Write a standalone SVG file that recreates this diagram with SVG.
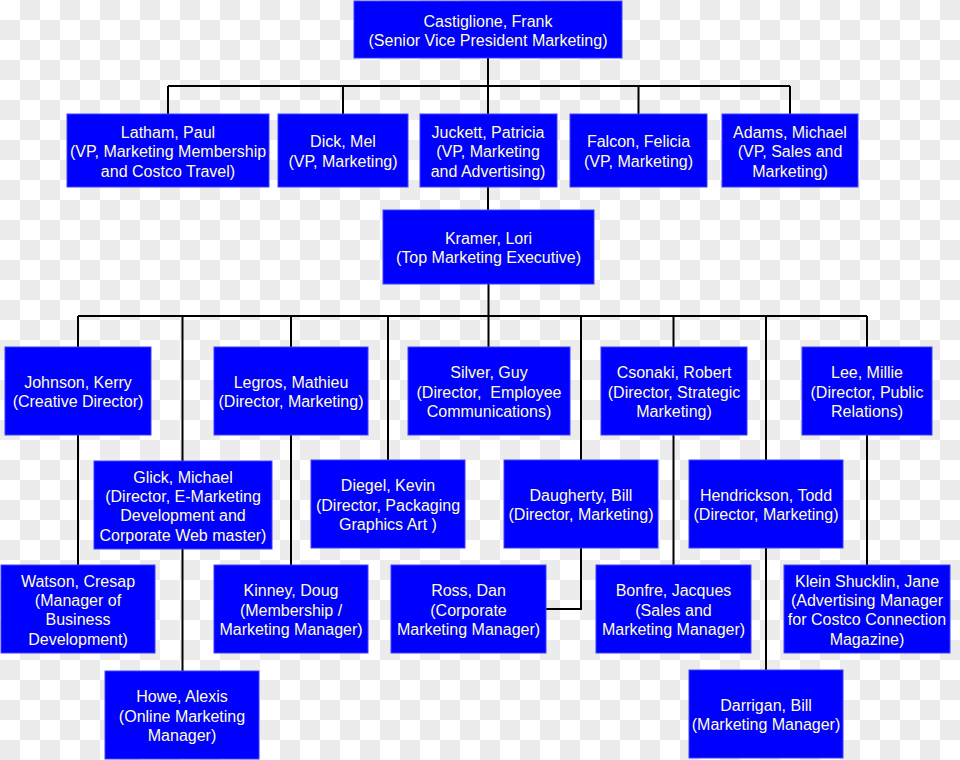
<svg xmlns="http://www.w3.org/2000/svg" width="960" height="760" viewBox="0 0 960 760">
<style>
.box{fill:#0000ff;stroke:#4040ff;stroke-width:1}
.t{font-family:"Liberation Sans",Arial,sans-serif;font-size:16px;fill:#ffffcc;text-anchor:middle}
.c{stroke:#000;stroke-width:2;fill:none}
</style>
<defs>
<pattern id="chk" width="40" height="40" patternUnits="userSpaceOnUse">
<rect width="40" height="40" fill="#ffffff"/>
<rect x="20" y="0" width="20" height="20" fill="#ececec"/>
<rect x="0" y="20" width="20" height="20" fill="#ececec"/>
</pattern>
</defs>
<rect width="960" height="760" fill="url(#chk)"/>
<g id="connectors">
<path class="c" d="M488 58V210M168 86H790M168 86V114M343 86V114M638.5 86V114M790 86V114"/>
<path class="c" d="M488.5 284V316M78 316H867M78 316V565M182.5 316V671M291 316V565M388 316V460M488.5 316V347M581 316V609H546M673.5 316V565M766 316V670M867 316V565"/>
</g>
<g id="castiglione"><rect class="box" x="354" y="1" width="268" height="57"/><text class="t"><tspan x="488" y="26.6">Castiglione, Frank</tspan><tspan x="488" y="46">(Senior Vice President Marketing)</tspan></text></g>
<g id="latham"><rect class="box" x="67" y="114" width="202" height="73"/><text class="t"><tspan x="168" y="137.7">Latham, Paul</tspan><tspan x="168" y="157.1">(VP, Marketing Membership</tspan><tspan x="168" y="176.5">and Costco Travel)</tspan></text></g>
<g id="dick"><rect class="box" x="278" y="114" width="130" height="73"/><text class="t"><tspan x="343" y="147.4">Dick, Mel</tspan><tspan x="343" y="166.8">(VP, Marketing)</tspan></text></g>
<g id="juckett"><rect class="box" x="420" y="114" width="137" height="73"/><text class="t"><tspan x="488" y="137.7">Juckett, Patricia</tspan><tspan x="488" y="157.1">(VP, Marketing</tspan><tspan x="488" y="176.5">and Advertising)</tspan></text></g>
<g id="falcon"><rect class="box" x="570" y="114" width="137" height="73"/><text class="t"><tspan x="638.5" y="147.4">Falcon, Felicia</tspan><tspan x="638.5" y="166.8">(VP, Marketing)</tspan></text></g>
<g id="adams"><rect class="box" x="722" y="114" width="136" height="73"/><text class="t"><tspan x="790" y="137.7">Adams, Michael</tspan><tspan x="790" y="157.1">(VP, Sales and</tspan><tspan x="790" y="176.5">Marketing)</tspan></text></g>
<g id="kramer"><rect class="box" x="383" y="210" width="211" height="74"/><text class="t"><tspan x="488.5" y="243.9">Kramer, Lori</tspan><tspan x="488.5" y="263.3">(Top Marketing Executive)</tspan></text></g>
<g id="johnson"><rect class="box" x="5" y="347" width="146" height="88"/><text class="t"><tspan x="78" y="387.9">Johnson, Kerry</tspan><tspan x="78" y="407.3">(Creative Director)</tspan></text></g>
<g id="legros"><rect class="box" x="214" y="347" width="154" height="88"/><text class="t"><tspan x="291" y="387.9">Legros, Mathieu</tspan><tspan x="291" y="407.3">(Director, Marketing)</tspan></text></g>
<g id="silver"><rect class="box" x="408" y="347" width="162" height="88"/><text class="t" xml:space="preserve"><tspan x="489" y="378.2">Silver, Guy</tspan><tspan x="489" y="397.6">(Director,  Employee</tspan><tspan x="489" y="417">Communications)</tspan></text></g>
<g id="csonaki"><rect class="box" x="601" y="347" width="146" height="88"/><text class="t"><tspan x="674" y="378.2">Csonaki, Robert</tspan><tspan x="674" y="397.6">(Director, Strategic</tspan><tspan x="674" y="417">Marketing)</tspan></text></g>
<g id="lee"><rect class="box" x="802" y="347" width="130" height="88"/><text class="t"><tspan x="867" y="378.2">Lee, Millie</tspan><tspan x="867" y="397.6">(Director, Public</tspan><tspan x="867" y="417">Relations)</tspan></text></g>
<g id="glick"><rect class="box" x="94" y="461" width="178" height="88"/><text class="t"><tspan x="183" y="482.5">Glick, Michael</tspan><tspan x="183" y="501.9">(Director, E-Marketing</tspan><tspan x="183" y="521.3">Development and</tspan><tspan x="183" y="540.7">Corporate Web master)</tspan></text></g>
<g id="diegel"><rect class="box" x="311" y="460" width="154" height="88"/><text class="t"><tspan x="388" y="491.2">Diegel, Kevin</tspan><tspan x="388" y="510.6">(Director, Packaging</tspan><tspan x="388" y="530">Graphics Art )</tspan></text></g>
<g id="daugherty"><rect class="box" x="504" y="460" width="154" height="88"/><text class="t"><tspan x="581" y="500.9">Daugherty, Bill</tspan><tspan x="581" y="520.3">(Director, Marketing)</tspan></text></g>
<g id="hendrickson"><rect class="box" x="689" y="460" width="154" height="88"/><text class="t"><tspan x="766" y="500.9">Hendrickson, Todd</tspan><tspan x="766" y="520.3">(Director, Marketing)</tspan></text></g>
<g id="watson"><rect class="box" x="1" y="565" width="154" height="88"/><text class="t"><tspan x="78" y="586.5">Watson, Cresap</tspan><tspan x="78" y="605.9">(Manager of</tspan><tspan x="78" y="625.3">Business</tspan><tspan x="78" y="644.7">Development)</tspan></text></g>
<g id="kinney"><rect class="box" x="214" y="565" width="154" height="88"/><text class="t"><tspan x="291" y="596.2">Kinney, Doug</tspan><tspan x="291" y="615.6">(Membership /</tspan><tspan x="291" y="635">Marketing Manager)</tspan></text></g>
<g id="ross"><rect class="box" x="391" y="565" width="155" height="88"/><text class="t"><tspan x="468.5" y="596.2">Ross, Dan</tspan><tspan x="468.5" y="615.6">(Corporate</tspan><tspan x="468.5" y="635">Marketing Manager)</tspan></text></g>
<g id="bonfre"><rect class="box" x="596" y="565" width="155" height="88"/><text class="t"><tspan x="673.5" y="596.2">Bonfre, Jacques</tspan><tspan x="673.5" y="615.6">(Sales and</tspan><tspan x="673.5" y="635">Marketing Manager)</tspan></text></g>
<g id="klein"><rect class="box" x="784" y="565" width="166" height="88"/><text class="t"><tspan x="867" y="586.5">Klein Shucklin, Jane</tspan><tspan x="867" y="605.9">(Advertising Manager</tspan><tspan x="867" y="625.3">for Costco Connection</tspan><tspan x="867" y="644.7">Magazine)</tspan></text></g>
<g id="howe"><rect class="box" x="105" y="671" width="154" height="88"/><text class="t"><tspan x="182" y="702.2">Howe, Alexis</tspan><tspan x="182" y="721.6">(Online Marketing</tspan><tspan x="182" y="741">Manager)</tspan></text></g>
<g id="darrigan"><rect class="box" x="689" y="670" width="154" height="88"/><text class="t"><tspan x="766" y="710.9">Darrigan, Bill</tspan><tspan x="766" y="730.3">(Marketing Manager)</tspan></text></g>
</svg>
